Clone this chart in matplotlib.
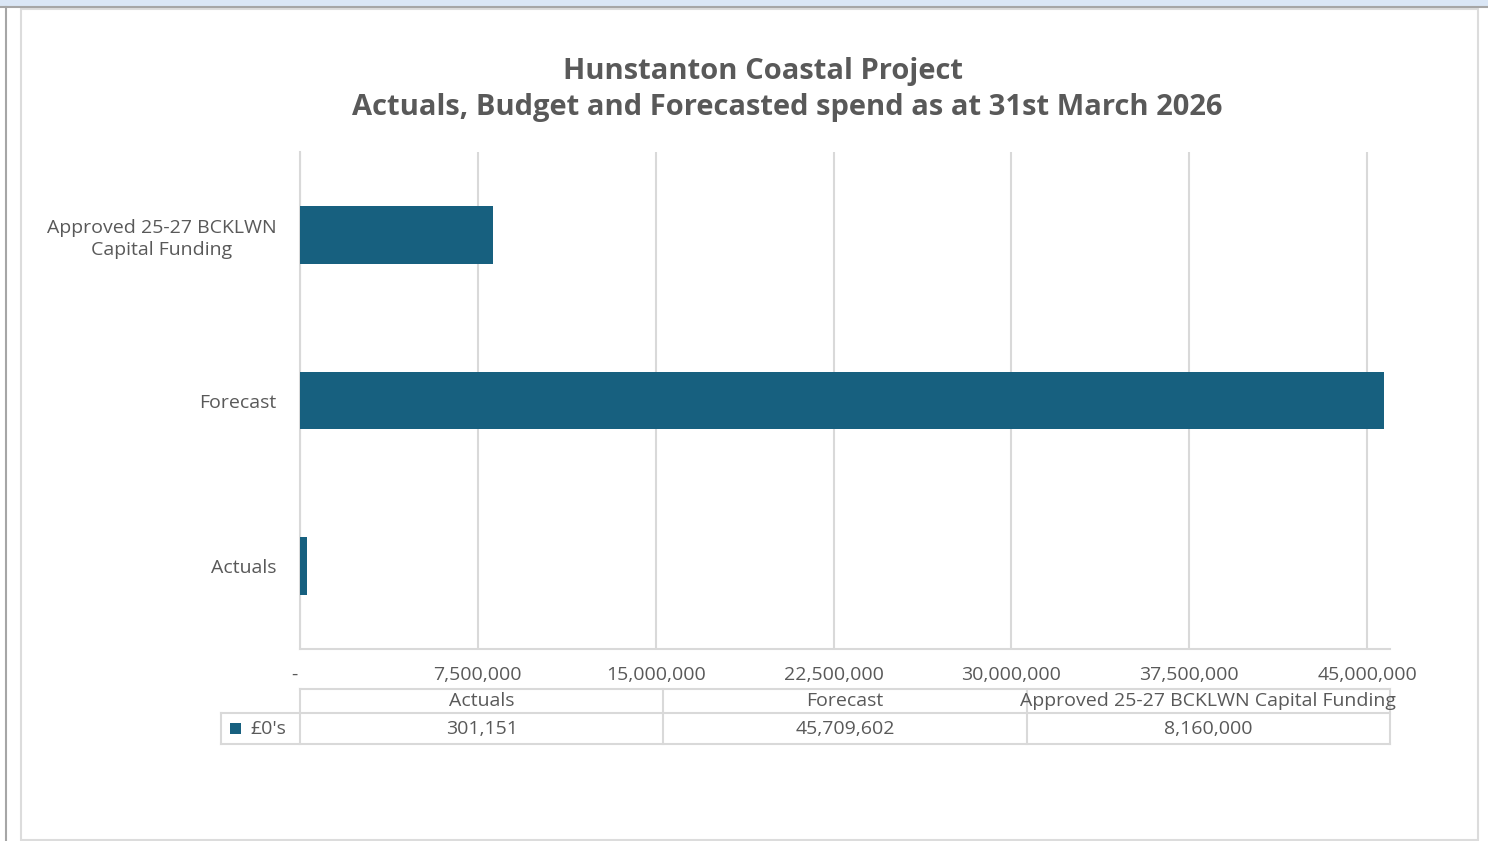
import matplotlib
matplotlib.use("Agg")
import matplotlib.pyplot as plt
from matplotlib.patches import Rectangle
from matplotlib.lines import Line2D

categories = ["Actuals", "Forecast", "Approved 25-27 BCKLWN\nCapital Funding"]
table_headers = ["Actuals", "Forecast", "Approved 25-27 BCKLWN Capital Funding"]
values = [301151, 45709602, 8160000]
series_name = "£0's"
xticks = [0, 7500000, 15000000, 22500000, 30000000, 37500000, 45000000]
title_line1 = "Hunstanton Coastal Project"
title_line2 = "Actuals, Budget and Forecasted spend as at 31st March 2026"

W, H = 1488, 841
BAR = "#17607f"
GRID = "#d9d9d9"
TXT = "#595959"
FONT = "Open Sans"
FS = 14

fig = plt.figure(figsize=(W / 100, H / 100), dpi=100)
fig.patch.set_facecolor("white")

def fx(x):
    return x / W

def fy(y):
    return 1 - y / H

# window frame
fig.add_artist(Rectangle((0, fy(6)), 1, 6 / H, transform=fig.transFigure,
                         facecolor="#dae6f5", edgecolor="none"))
fig.add_artist(Line2D([0, 1], [fy(6.5), fy(6.5)], transform=fig.transFigure,
                      color="#a6a6a6", lw=1.5))
fig.add_artist(Line2D([fx(5.5), fx(5.5)], [fy(7), 0], transform=fig.transFigure,
                      color="#a6a6a6", lw=1.5))
fig.add_artist(Rectangle((fx(21), fy(840)), fx(1478 - 21), (840 - 9) / H,
                         transform=fig.transFigure, facecolor="none",
                         edgecolor="#dcdcdc", lw=1.5))

L, R, T, B = 300, 1390, 152, 649
ax = fig.add_axes([fx(L), fy(B), fx(R - L), (B - T) / H])
ypos = list(range(len(categories)))
ax.barh(ypos, values, height=0.35, color=BAR, zorder=3)
ax.set_ylim(-0.5, 2.5)
ax.set_xlim(0, 1090 / (1067 / 45000000))
ax.set_xticks(xticks)
ax.set_xticklabels(["-  "] + [f"{v:,.0f}" for v in xticks[1:]],
                   fontsize=FS, color=TXT, family=FONT)
ax.set_yticks(ypos)
ax.set_yticklabels(categories, fontsize=FS, color=TXT, family=FONT,
                   multialignment="center", linespacing=1.3)
ax.tick_params(axis="both", length=0)
ax.tick_params(axis="y", pad=17)
ax.tick_params(axis="x", pad=12)
ax.grid(axis="x", color=GRID, lw=1.5, zorder=0)
for s in ["top", "right"]:
    ax.spines[s].set_visible(False)
for s in ["left", "bottom"]:
    ax.spines[s].set_color(GRID)
    ax.spines[s].set_linewidth(1.5)

fig.text(fx(763), fy(71), title_line1, ha="center", va="center", fontsize=21,
         fontweight="bold", color=TXT, family=FONT)
fig.text(fx(787), fy(107), title_line2, ha="center", va="center", fontsize=21,
         fontweight="bold", color=TXT, family=FONT)

# data table
tr = ax.transAxes
def ay(y):
    return (B - y) / (B - T)

h_top, h_mid, h_bot = 689, 713, 744
legL = 221
cols = [0, 1 / 3, 2 / 3, 1]
lk = dict(color=GRID, lw=1.5, transform=tr, clip_on=False)
ax.plot([0, 1], [ay(h_top)] * 2, **lk)
ax.plot([(legL - L) / (R - L), 1], [ay(h_mid)] * 2, **lk)
ax.plot([(legL - L) / (R - L), 1], [ay(h_bot)] * 2, **lk)
for c in cols:
    ax.plot([c, c], [ay(h_top), ay(h_bot)], **lk)
ax.plot([(legL - L) / (R - L)] * 2, [ay(h_mid), ay(h_bot)], **lk)

for i, (hdr, v) in enumerate(zip(table_headers, values)):
    cx = (cols[i] + cols[i + 1]) / 2
    ax.text(cx, ay(701), hdr, ha="center", va="center",
            fontsize=FS, color=TXT, family=FONT, transform=tr, clip_on=False, zorder=5)
    ax.text(cx, ay(729), f"{v:,.0f}", ha="center", va="center",
            fontsize=FS, color=TXT, family=FONT, transform=tr, clip_on=False)

sq = 11
ax.add_patch(Rectangle(((230 - L) / (R - L), ay(734)), sq / (R - L), sq / (B - T),
                       transform=tr, clip_on=False, facecolor=BAR, edgecolor="none"))
ax.text((250 - L) / (R - L), ay(729), series_name, ha="left",
        va="center", fontsize=FS, color=TXT, family=FONT, transform=tr,
        clip_on=False)

fig.savefig("out.png", dpi=100)
